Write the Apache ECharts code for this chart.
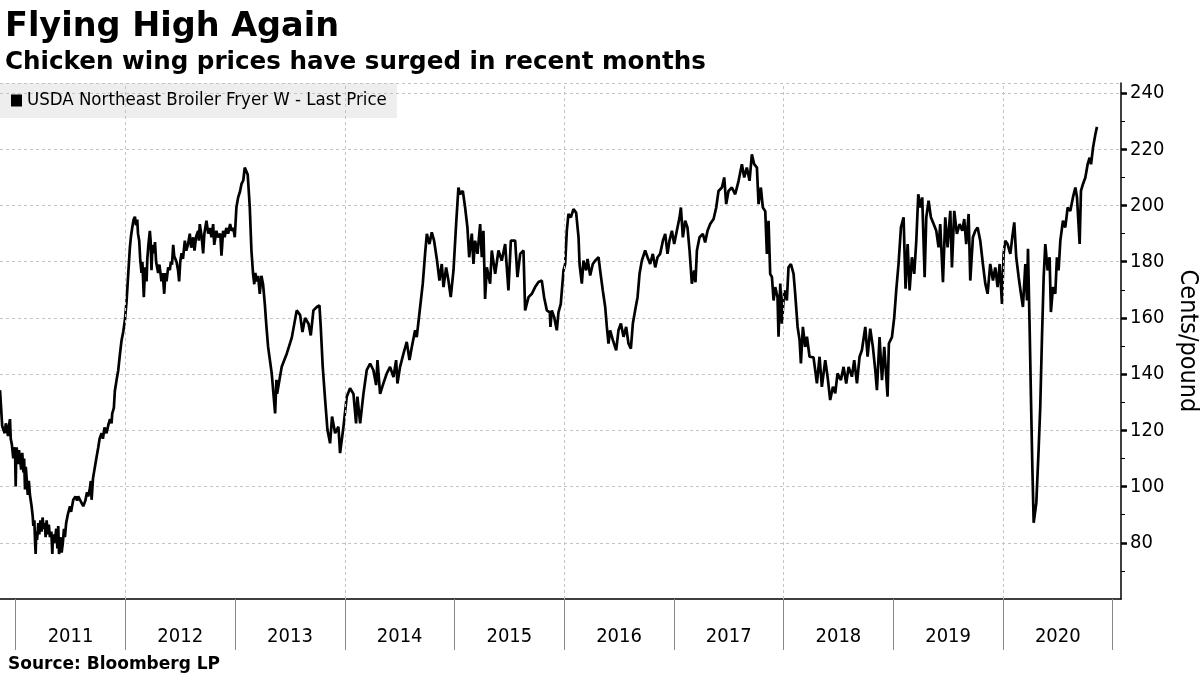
<!DOCTYPE html>
<html>
<head>
<meta charset="utf-8">
<script src="https://cdn.jsdelivr.net/npm/echarts@6/dist/echarts.min.js"></script>
<style>html,body{margin:0;padding:0;background:#fff}#c{width:1200px;height:675px}</style>
</head>
<body>
<div id="c"></div>
<script>
// ---- data: [decimal year, cents per pound] ----
const seg2011 = [[2010.857,134.3],[2010.867,128],[2010.877,121.5],[2010.887,122],[2010.900,119],[2010.910,122.5],[2010.918,121],[2010.930,118],[2010.940,122],[2010.948,124],[2010.955,117],[2010.965,115],[2010.978,110],[2010.985,114],[2010.995,111],[2011.000,100],[2011.005,112],[2011.009,114],[2011.020,108],[2011.030,113],[2011.039,110],[2011.050,106],[2011.060,112],[2011.070,105],[2011.077,110],[2011.085,99],[2011.092,107],[2011.100,103],[2011.110,97],[2011.120,102],[2011.130,97],[2011.145,93],[2011.155,89.5],[2011.161,86],[2011.170,88],[2011.177,80],[2011.182,76],[2011.187,84],[2011.195,81],[2011.206,87],[2011.215,83],[2011.225,88],[2011.236,84],[2011.245,89],[2011.255,85],[2011.265,87],[2011.273,82],[2011.282,88],[2011.292,83],[2011.302,86.5],[2011.312,82],[2011.325,84],[2011.334,76],[2011.340,83],[2011.350,80],[2011.358,81],[2011.370,85],[2011.380,78],[2011.388,86],[2011.395,76],[2011.407,82],[2011.419,76.5],[2011.430,80],[2011.440,85],[2011.449,82],[2011.460,87],[2011.475,90],[2011.495,93],[2011.505,91],[2011.525,95.3],[2011.545,96.5],[2011.560,95],[2011.570,96.5],[2011.590,95],[2011.616,93],[2011.635,95],[2011.650,98],[2011.661,96.5],[2011.675,99],[2011.685,102],[2011.692,95.3],[2011.705,103],[2011.722,107],[2011.735,110],[2011.753,114],[2011.765,117],[2011.783,119],[2011.795,117],[2011.810,121],[2011.828,119],[2011.845,122],[2011.860,124],[2011.874,122.5],[2011.880,126],[2011.895,128],[2011.904,134],[2011.920,138],[2011.935,141.4],[2011.950,147],[2011.965,152],[2011.980,155],[2011.995,159],[2012.011,166],[2012.026,175.7],[2012.041,185],[2012.051,189],[2012.062,192],[2012.075,195],[2012.087,196],[2012.097,193],[2012.108,195],[2012.115,190],[2012.126,187.5],[2012.135,181],[2012.147,176],[2012.155,180],[2012.168,167.4],[2012.180,178],[2012.193,173],[2012.200,181],[2012.210,186],[2012.223,191],[2012.230,187.5],[2012.238,177],[2012.247,186],[2012.260,183],[2012.270,187],[2012.280,180],[2012.299,176],[2012.310,179],[2012.329,173],[2012.340,176],[2012.354,168.6],[2012.365,176],[2012.375,173],[2012.390,178],[2012.405,177],[2012.415,180],[2012.425,179],[2012.436,186],[2012.445,182],[2012.466,180],[2012.480,177],[2012.490,173],[2012.500,180],[2012.512,183],[2012.525,181],[2012.542,187.5],[2012.555,184],[2012.570,186],[2012.587,190],[2012.600,185],[2012.618,188.7],[2012.630,184],[2012.645,189],[2012.663,191],[2012.670,187.5],[2012.678,193.4],[2012.695,189],[2012.709,183],[2012.720,190],[2012.739,194.6],[2012.755,190],[2012.770,192],[2012.785,188.7],[2012.800,193.4],[2012.810,186],[2012.830,191],[2012.845,188.7],[2012.865,190],[2012.876,182.2],[2012.891,191],[2012.905,188.7],[2012.920,192],[2012.937,190],[2012.955,193.4],[2012.967,191],[2012.985,192],[2012.997,188.7],[2013.012,199.3],[2013.028,202.9],[2013.045,205],[2013.058,207.6],[2013.075,209],[2013.088,213.5],[2013.103,214],[2013.115,211],[2013.125,205],[2013.134,199.3],[2013.149,184],[2013.164,175.7],[2013.175,172],[2013.185,176],[2013.195,173],[2013.210,175],[2013.225,168.6],[2013.240,175],[2013.255,172],[2013.271,165],[2013.286,156.8],[2013.301,149.7]];

const seg2014 = [[2013.334,140.3],[2013.365,126],[2013.377,138],[2013.383,133],[2013.425,142.6],[2013.471,147.3],[2013.517,153],[2013.562,162.7],[2013.593,161],[2013.614,155],[2013.638,160],[2013.669,158],[2013.690,153.8],[2013.714,162.7],[2013.745,163.9],[2013.769,164.5],[2013.781,156.8],[2013.799,142.6],[2013.821,130.8],[2013.842,120.2],[2013.866,115.4],[2013.884,124.9],[2013.912,119],[2013.942,121.3],[2013.957,111.9],[2013.988,121.3],[2014.018,132],[2014.048,135],[2014.079,133],[2014.103,122.5],[2014.115,132],[2014.140,122.5],[2014.170,133],[2014.200,141.4],[2014.231,143.8],[2014.261,141.4],[2014.286,136.1],[2014.298,145],[2014.322,133],[2014.352,136.7],[2014.383,140.3],[2014.413,142.6],[2014.444,139],[2014.468,145],[2014.480,136.7],[2014.504,142.6],[2014.535,147.3],[2014.565,151.5],[2014.590,145],[2014.611,149.7],[2014.641,155.6],[2014.656,153.2],[2014.687,163.9],[2014.711,172.2],[2014.732,182.8],[2014.748,189.9],[2014.772,186.3],[2014.793,190.5],[2014.814,187.5],[2014.839,181],[2014.863,173.3],[2014.884,179.2],[2014.900,171],[2014.924,178],[2014.945,173.3],[2014.966,167.4],[2014.991,176.9],[2015.015,193.4],[2015.036,206.4],[2015.052,204],[2015.076,205.2],[2015.097,199.3],[2015.118,192.2],[2015.134,181.6],[2015.158,190],[2015.173,179.2],[2015.188,187.5],[2015.210,182.8],[2015.234,193.4],[2015.249,181.6],[2015.264,191],[2015.279,166.8],[2015.295,178],[2015.325,172.2],[2015.340,184],[2015.371,175.7],[2015.401,184],[2015.431,180.4],[2015.462,186.3],[2015.492,169.8],[2015.514,187.5],[2015.553,187.5],[2015.574,174.5],[2015.599,182.8],[2015.629,184],[2015.644,162.7],[2015.675,167.4],[2015.705,168.6],[2015.735,171],[2015.766,172.8]];

const seg2017 = [[2015.796,173.3],[2015.817,167.4],[2015.842,162.7],[2015.869,162],[2015.875,156.8],[2015.887,162.7],[2015.909,160.3],[2015.933,155.6],[2015.948,162],[2015.969,165],[2015.994,176.9],[2016.009,179.2],[2016.024,191],[2016.039,197],[2016.061,195.8],[2016.085,198.7],[2016.109,197.5],[2016.131,188.7],[2016.140,179.2],[2016.161,172.2],[2016.176,180.4],[2016.200,176.9],[2016.213,181],[2016.237,175.1],[2016.261,179.2],[2016.283,180.4],[2016.313,181.6],[2016.328,176.9],[2016.352,169.8],[2016.374,163.9],[2016.389,156.8],[2016.404,150.9],[2016.419,155.6],[2016.444,152.1],[2016.474,148.5],[2016.495,155.6],[2016.517,158],[2016.541,153.3],[2016.565,156.8],[2016.586,150.9],[2016.608,149.1],[2016.626,158],[2016.647,162.7],[2016.669,167.4],[2016.687,175.7],[2016.708,180.4],[2016.738,184],[2016.760,181.6],[2016.784,179.2],[2016.808,182.8],[2016.830,178],[2016.851,181.6],[2016.875,182.8],[2016.900,187.5],[2016.921,189.9],[2016.942,182.8],[2016.960,187.5],[2016.982,191],[2017.003,186.3],[2017.027,191],[2017.052,195.8],[2017.064,199.3],[2017.082,188.7],[2017.103,194.6],[2017.124,192.2],[2017.143,184],[2017.164,172.2],[2017.185,176.9],[2017.197,172.7],[2017.210,184],[2017.234,188.7],[2017.264,189.9],[2017.285,186.9],[2017.307,191],[2017.331,193.4],[2017.362,195.2],[2017.386,199.3],[2017.407,205.2],[2017.438,206.4],[2017.459,210],[2017.477,200.5],[2017.498,205.2],[2017.529,206.4],[2017.559,204],[2017.590,208.8],[2017.620,214.7],[2017.641,210],[2017.665,213.5],[2017.690,208.8],[2017.711,218.2],[2017.732,214.7],[2017.757,213.5],[2017.772,200.5],[2017.793,206.4],[2017.811,199.3],[2017.833,198],[2017.848,182.8],[2017.863,194.6],[2017.878,175.7],[2017.894,174.5],[2017.909,166.2],[2017.924,171],[2017.945,167.4],[2017.954,153.3],[2017.970,172.2],[2017.985,158],[2018.006,169.8],[2018.030,166.2],[2018.045,178],[2018.067,179.2],[2018.091,175.7],[2018.106,168.6],[2018.128,156.8],[2018.146,152.1],[2018.158,143.8],[2018.176,156.8],[2018.197,149.7],[2018.213,153.3],[2018.237,146.2]];

const seg2020 = [[2018.273,146],[2018.304,136.7],[2018.328,146.2],[2018.349,135.5],[2018.380,145],[2018.401,139.1],[2018.425,130.8],[2018.450,135.5],[2018.471,133.2],[2018.492,140.3],[2018.523,137.9],[2018.547,142.6],[2018.571,136.7],[2018.593,142.6],[2018.623,139.1],[2018.644,145],[2018.669,136.7],[2018.693,146.2],[2018.714,148.5],[2018.745,156.8],[2018.766,146.2],[2018.790,156.2],[2018.814,149.7],[2018.836,141.4],[2018.851,134.3],[2018.875,153.2],[2018.897,137.9],[2018.918,149.7],[2018.948,132],[2018.960,150.9],[2018.988,153.2],[2019.009,160.3],[2019.027,169.8],[2019.048,179.2],[2019.070,192.2],[2019.094,195.8],[2019.112,170.4],[2019.131,186.3],[2019.149,169.8],[2019.170,181.6],[2019.191,175.7],[2019.210,187.5],[2019.228,204],[2019.246,199.3],[2019.264,202.9],[2019.286,174.5],[2019.301,195.8],[2019.322,201.7],[2019.343,195.8],[2019.368,193.4],[2019.392,191],[2019.413,185.1],[2019.428,193.4],[2019.453,172.7],[2019.474,195.8],[2019.495,185.1],[2019.520,198.1],[2019.535,178],[2019.556,198.1],[2019.580,189.9],[2019.605,193.4],[2019.629,191],[2019.647,195.2],[2019.665,186.3],[2019.687,197],[2019.702,173.3],[2019.726,188.7],[2019.748,191],[2019.769,192.2],[2019.793,187.5],[2019.817,179.2],[2019.839,172.2],[2019.860,168.6],[2019.884,179.2],[2019.909,173.3],[2019.930,178],[2019.951,171],[2019.970,179.2],[2019.991,165],[2020.006,182.8],[2020.021,187.5],[2020.042,186.3],[2020.067,182.8],[2020.085,188.7],[2020.103,194],[2020.121,181.6],[2020.143,174.5],[2020.164,168.6],[2020.182,163.9],[2020.204,179.2],[2020.219,166.2],[2020.228,184.6],[2020.243,156.8],[2020.255,132],[2020.267,108.4],[2020.280,87.1],[2020.304,94.2],[2020.325,113.1],[2020.340,128.4],[2020.355,152.1],[2020.371,174.5],[2020.386,186.3],[2020.407,176.9],[2020.425,181.6],[2020.437,162.1],[2020.456,171],[2020.477,168.6],[2020.492,181.6],[2020.507,176.9],[2020.523,187.5],[2020.547,194.6],[2020.568,192.2],[2020.590,199.3],[2020.614,198.1],[2020.638,202.9],[2020.660,206.4],[2020.675,202.9],[2020.699,186.3],[2020.711,205.2],[2020.729,207.6],[2020.751,210],[2020.772,214.7],[2020.790,217],[2020.803,214.7],[2020.821,220.6],[2020.842,225.3],[2020.857,228]];

const yearBoundaries = [2011, 2012, 2013, 2014, 2015, 2016, 2017, 2018, 2019, 2020, 2021];
const yearLabelCenters = [2011.5, 2012.5, 2013.5, 2014.5, 2015.5, 2016.5, 2017.5, 2018.5, 2019.5, 2020.5];
const xGridYears = [2012, 2014, 2016, 2018, 2020];
const yMajorTicks = [80, 100, 120, 140, 160, 180, 200, 220, 240];
const yMinorTicks = [70, 90, 110, 130, 150, 170, 190, 210, 230];
const xMin = 2010.857, xMax = 2021.076, yMin = 60, yMax = 243.6;

const seriesData = seg2011.concat(seg2014, seg2017, seg2020);

const condensed = "'DejaVu Sans Condensed', 'DejaVu Sans', sans-serif";
const bold = "'DejaVu Sans', sans-serif";

const chart = echarts.init(document.getElementById('c'), null, {renderer: 'canvas'});
chart.setOption({
  animation: false,
  backgroundColor: '#fff',
  title: [
    {text: 'Flying High Again', left: 0, top: 5,
     textStyle: {fontFamily: bold, fontWeight: 'bold', fontSize: 33.5, color: '#000'}},
    {text: 'Chicken wing prices have surged in recent months', left: 0, top: 45,
     textStyle: {fontFamily: bold, fontWeight: 'bold', fontSize: 24.6, color: '#000'}},
    {text: 'Source: Bloomberg LP', left: 3, top: 651,
     textStyle: {fontFamily: bold, fontWeight: 'bold', fontSize: 17, color: '#000'}}
  ],
  legend: {
    left: 0, top: 83, z: 0,
    backgroundColor: 'rgba(222,222,222,0.5)',
    padding: [8, 10, 8, 11],
    itemWidth: 11, itemHeight: 12, itemGap: 5,
    icon: 'rect',
    textStyle: {fontFamily: condensed, fontSize: 18.5, color: '#000'},
    data: ['USDA Northeast Broiler Fryer W - Last Price']
  },
  grid: {left: 0, right: 79, top: 83, bottom: 76, containLabel: false, outerBoundsMode: 'none'},
  xAxis: {
    type: 'value', min: xMin, max: xMax,
    axisLine: {show: true, lineStyle: {color: '#000', width: 1.5}},
    axisTick: {show: true, customValues: yearBoundaries, length: 51, lineStyle: {color: '#888', width: 1}},
    axisLabel: {show: true, customValues: yearLabelCenters, margin: 28,
      fontFamily: condensed, fontSize: 20, color: '#000',
      formatter: v => String(Math.floor(v))},
    splitLine: {show: false}
  },
  yAxis: [
    {
      type: 'value', position: 'right', min: yMin, max: yMax, interval: 20,
      name: 'Cents/pound', nameLocation: 'middle', nameRotate: -90, nameGap: 54,
      nameTextStyle: {fontFamily: condensed, fontSize: 25, color: '#000'},
      axisLine: {show: true, lineStyle: {color: '#000', width: 1.5}},
      axisTick: {show: true, customValues: yMajorTicks, length: 6, lineStyle: {color: '#000', width: 2.5}},
      axisLabel: {show: true, customValues: yMajorTicks, margin: 9,
        fontFamily: condensed, fontSize: 20, color: '#000'},
      splitLine: {show: true, lineStyle: {color: '#c4c4c4', width: 1, type: [3, 3]}}
    },
    {
      type: 'value', position: 'right', min: yMin, max: yMax,
      axisLine: {show: false},
      axisTick: {show: true, customValues: yMinorTicks, length: 4, lineStyle: {color: '#000', width: 1}},
      axisLabel: {show: false},
      splitLine: {show: false}
    }
  ],
  series: [{
    name: 'USDA Northeast Broiler Fryer W - Last Price',
    type: 'line',
    data: seriesData,
    showSymbol: false,
    symbol: 'none',
    lineStyle: {color: '#000', width: 2.7},
    itemStyle: {color: '#000'},
    markLine: {
      silent: true, symbol: ['none', 'none'], label: {show: false},
      lineStyle: {color: '#c4c4c4', width: 1, type: [3, 3]},
      data: xGridYears.map(v => ({xAxis: v})).concat([{yAxis: yMax}])
    }
  }]
});
</script>
</body>
</html>
